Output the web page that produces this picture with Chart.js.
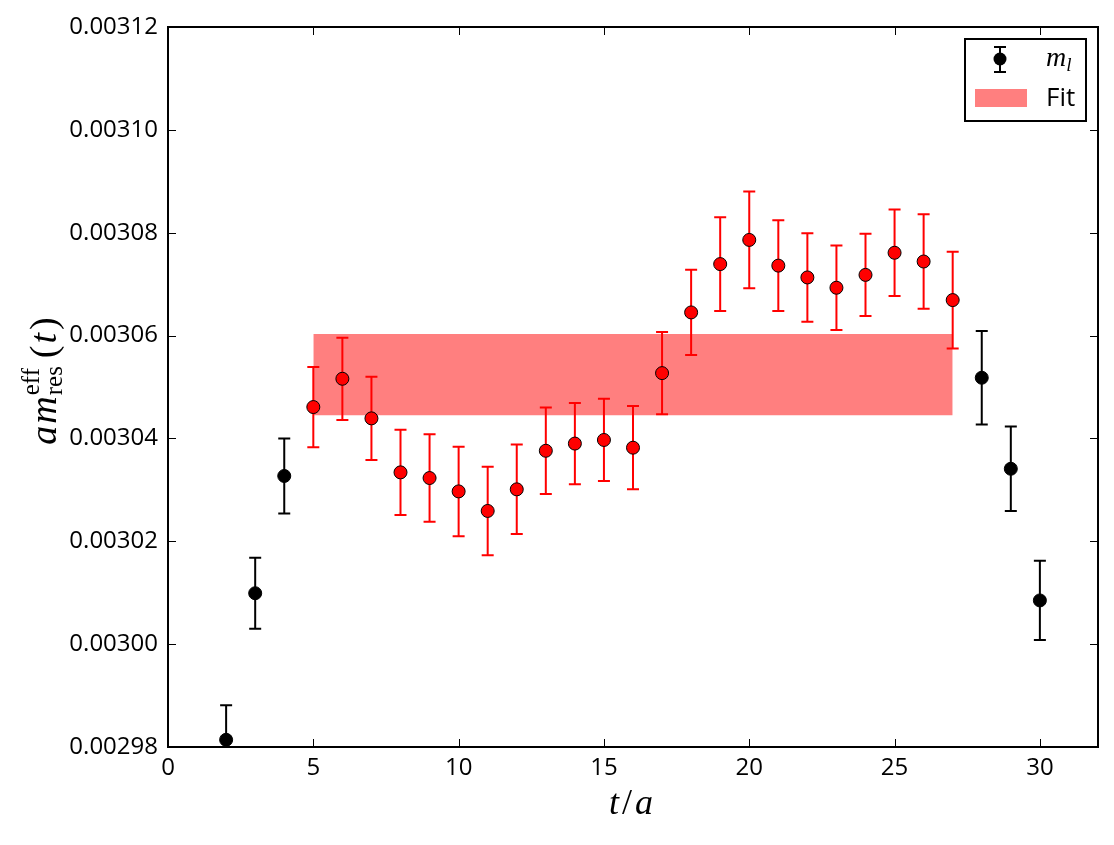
<!DOCTYPE html>
<html>
<head>
<meta charset="utf-8">
<script src="https://cdn.jsdelivr.net/npm/chart.js@4/dist/chart.umd.min.js"></script>
<style>
  html, body { margin: 0; padding: 0; background: #fff; }
</style>
</head>
<body>
<canvas id="myChart" width="1114" height="845"></canvas>
<script>
// outer points (not in fit range)
const tBlack = [2, 3, 4, 28, 29, 30];
const mBlack = [0.0029814, 0.0030099, 0.0030327, 0.0030518, 0.0030341, 0.0030085];
const errBlack = [0.0000067, 0.0000069, 0.0000073, 0.0000091, 0.0000082, 0.0000077];

// points used in the fit
const tRed = [5, 6, 7, 8, 9, 10, 11, 12, 13, 14, 15, 16, 17, 18, 19, 20, 21, 22, 23, 24, 25, 26, 27];
const mRed = [0.0030461, 0.0030516, 0.0030439, 0.0030334, 0.0030323, 0.0030297, 0.0030259, 0.0030301,
  0.0030376, 0.0030390, 0.0030397, 0.0030382, 0.0030527, 0.0030645, 0.0030739, 0.0030786, 0.0030736,
  0.0030713, 0.0030693, 0.0030718, 0.0030761, 0.0030744, 0.0030669];
const errRed = [0.0000078, 0.0000080, 0.0000081, 0.0000083, 0.0000085, 0.0000087, 0.0000086, 0.0000087,
  0.0000084, 0.0000079, 0.0000080, 0.0000081, 0.0000080, 0.0000083, 0.0000091, 0.0000094, 0.0000088,
  0.0000086, 0.0000082, 0.0000080, 0.0000084, 0.0000092, 0.0000094];

// fit band
const fitRange = [5, 27];
const fitBand = [0.0030445, 0.0030603];

const xTicks = [0, 5, 10, 15, 20, 25, 30];
const yTicks = [0.00298, 0.00300, 0.00302, 0.00304, 0.00306, 0.00308, 0.00310, 0.00312];

const sansFont = '"Open Sans", "DejaVu Sans", sans-serif';
const serifFont = '"Liberation Serif", "DejaVu Serif", serif';

function pts(xs, ys) {
  return xs.map((x, i) => ({ x: x, y: ys[i] }));
}

function drawErrorBars(chart, xs, ys, errs, color) {
  const ctx = chart.ctx;
  const xs_ = chart.scales.x, ys_ = chart.scales.y;
  ctx.save();
  ctx.beginPath();
  ctx.rect(chart.chartArea.left, chart.chartArea.top,
    chart.chartArea.right - chart.chartArea.left, chart.chartArea.bottom - chart.chartArea.top);
  ctx.clip();
  ctx.strokeStyle = color;
  ctx.lineWidth = 2;
  xs.forEach((x, i) => {
    const px = xs_.getPixelForValue(x);
    const top = ys_.getPixelForValue(ys[i] + errs[i]);
    const bot = ys_.getPixelForValue(ys[i] - errs[i]);
    ctx.beginPath();
    ctx.moveTo(px, top); ctx.lineTo(px, bot);
    ctx.moveTo(px - 6, top); ctx.lineTo(px + 6, top);
    ctx.moveTo(px - 6, bot); ctx.lineTo(px + 6, bot);
    ctx.stroke();
  });
  ctx.restore();
}

const errorBarPlugin = {
  id: 'errorBars',
  afterDatasetDraw(chart, args) {
    // draw bars right after the fit band, below the markers
    if (args.index !== 3) return;
    drawErrorBars(chart, tRed, mRed, errRed, '#ff0000');
    drawErrorBars(chart, tBlack, mBlack, errBlack, '#000000');
  }
};

const framePlugin = {
  id: 'frame',
  afterDraw(chart) {
    const ctx = chart.ctx;
    const ca = chart.chartArea;
    const sx = chart.scales.x, sy = chart.scales.y;
    ctx.save();
    ctx.strokeStyle = '#000';
    ctx.lineWidth = 1;
    // inward ticks on all four sides
    ctx.beginPath();
    xTicks.forEach(v => {
      const px = Math.round(sx.getPixelForValue(v)) + 0.5;
      ctx.moveTo(px, ca.bottom); ctx.lineTo(px, ca.bottom - 8);
      ctx.moveTo(px, ca.top); ctx.lineTo(px, ca.top + 8);
    });
    yTicks.forEach(v => {
      const py = Math.round(sy.getPixelForValue(v)) + 0.5;
      ctx.moveTo(ca.left, py); ctx.lineTo(ca.left + 8, py);
      ctx.moveTo(ca.right, py); ctx.lineTo(ca.right - 8, py);
    });
    ctx.stroke();
    ctx.lineWidth = 2;
    ctx.strokeRect(ca.left, ca.top, ca.right - ca.left, ca.bottom - ca.top);

    // x axis title: t/a
    ctx.fillStyle = '#000';
    ctx.textBaseline = 'alphabetic';
    ctx.textAlign = 'left';
    const xi = 'italic 36px ' + serifFont, xr = '36px ' + serifFont;
    ctx.font = xi; const wt = ctx.measureText('t').width, wa = ctx.measureText('a').width;
    ctx.font = xr; const ws = ctx.measureText('/').width;
    let xx = (ca.left + ca.right) / 2 - 2 - (wt + ws + wa + 6) / 2;
    ctx.font = xi; ctx.fillText('t', xx, 814); xx += wt + 3;
    ctx.font = xr; ctx.fillText('/', xx, 814); xx += ws + 3;
    ctx.font = xi; ctx.fillText('a', xx, 814);

    // y axis title: a m_res^eff (t)
    ctx.save();
    ctx.translate(56, 381);
    ctx.rotate(-Math.PI / 2);
    const big = 'italic 38px ' + serifFont;
    const bigR = '38px ' + serifFont;
    const small = '25px ' + serifFont;
    ctx.font = big; const wA = ctx.measureText('a').width, wM = ctx.measureText('m').width;
    ctx.font = small; const wSc = Math.max(ctx.measureText('eff').width, ctx.measureText('res').width);
    ctx.font = bigR; const wP = ctx.measureText('(').width, wQ = ctx.measureText(')').width;
    ctx.font = big; const wT = ctx.measureText('t').width;
    const total = wA + 2 + wM + 1 + wSc + 8 + wP + 2 + wT + 3 + wQ;
    let x = -total / 2;
    ctx.font = big; ctx.fillText('a', x, 0); x += wA + 2;
    ctx.fillText('m', x, 0); x += wM + 1;
    ctx.font = small;
    ctx.fillText('eff', x, -17);
    ctx.fillText('res', x, 6);
    x += wSc + 8;
    ctx.font = bigR; ctx.fillText('(', x, 0); x += wP + 2;
    ctx.font = big; ctx.fillText('t', x, 0); x += wT + 3;
    ctx.font = bigR; ctx.fillText(')', x, 0);
    ctx.restore();

    // legend
    const lx = ca.right - 133, ly = ca.top + 12;
    ctx.fillStyle = '#fff';
    ctx.fillRect(lx, ly, 121, 82);
    ctx.lineWidth = 2;
    ctx.strokeStyle = '#000';
    ctx.strokeRect(lx, ly, 121, 82);
    const mx = lx + 35, my = ly + 20;
    ctx.lineWidth = 2;
    ctx.beginPath();
    ctx.moveTo(mx, my - 12); ctx.lineTo(mx, my + 13);
    ctx.moveTo(mx - 6, my - 12); ctx.lineTo(mx + 6, my - 12);
    ctx.moveTo(mx - 6, my + 13); ctx.lineTo(mx + 6, my + 13);
    ctx.stroke();
    ctx.fillStyle = '#000';
    ctx.beginPath();
    ctx.arc(mx, my, 6.5, 0, Math.PI * 2);
    ctx.fill();
    ctx.textAlign = 'left';
    ctx.font = 'italic 28px ' + serifFont;
    ctx.fillText('m', lx + 81, ly + 27);
    const wm = ctx.measureText('m').width;
    ctx.font = 'italic 19px ' + serifFont;
    ctx.fillText('l', lx + 81 + wm, ly + 32);
    ctx.fillStyle = 'rgba(255,0,0,0.5)';
    ctx.fillRect(lx + 10, ly + 50, 52, 18);
    ctx.fillStyle = '#000';
    ctx.font = '26px ' + sansFont;
    ctx.textBaseline = 'middle';
    ctx.fillText('Fit', lx + 81, ly + 60);
    ctx.restore();
  }
};

const ctx = document.getElementById('myChart').getContext('2d');
const chart = new Chart(ctx, {
  type: 'scatter',
  data: {
    datasets: [
      {
        label: 'm_l',
        data: pts(tBlack, mBlack),
        pointRadius: 6.5,
        pointBackgroundColor: '#000',
        pointBorderColor: '#000',
        pointBorderWidth: 1,
        order: 0
      },
      {
        label: 'fit points',
        data: pts(tRed, mRed),
        pointRadius: 6.5,
        pointBackgroundColor: '#ff0000',
        pointBorderColor: '#000',
        pointBorderWidth: 1,
        order: 0
      },
      {
        label: 'Fit top',
        type: 'line',
        data: pts(fitRange, [fitBand[1], fitBand[1]]),
        borderWidth: 0,
        borderColor: 'rgba(0,0,0,0)',
        pointRadius: 0,
        fill: false,
        order: 2
      },
      {
        label: 'Fit',
        type: 'line',
        data: pts(fitRange, [fitBand[0], fitBand[0]]),
        borderWidth: 0,
        borderColor: 'rgba(0,0,0,0)',
        backgroundColor: 'rgba(255,0,0,0.5)',
        pointRadius: 0,
        fill: '-1',
        order: 1
      }
    ]
  },
  options: {
    responsive: false,
    animation: false,
    devicePixelRatio: 1,
    layout: { padding: { left: 0, right: 16, top: 27, bottom: 0 } },
    plugins: {
      legend: { display: false },
      tooltip: { enabled: false }
    },
    scales: {
      x: {
        type: 'linear',
        min: 0,
        max: 32,
        grid: { display: false, drawTicks: false },
        border: { display: false },
        ticks: {
          stepSize: 5,
          includeBounds: false,
          padding: 7,
          color: '#000',
          font: { family: sansFont, size: 24 },
          maxRotation: 0
        },
        afterFit(scale) { scale.height = 98; }
      },
      y: {
        type: 'linear',
        min: 0.00298,
        max: 0.00312,
        grid: { display: false, drawTicks: false },
        border: { display: false },
        ticks: {
          stepSize: 0.00002,
          padding: 10,
          color: '#000',
          font: { family: sansFont, size: 24 },
          callback: v => v.toFixed(5)
        },
        afterFit(scale) { scale.width = 168; }
      }
    }
  },
  plugins: [errorBarPlugin, framePlugin]
});
</script>
</body>
</html>
